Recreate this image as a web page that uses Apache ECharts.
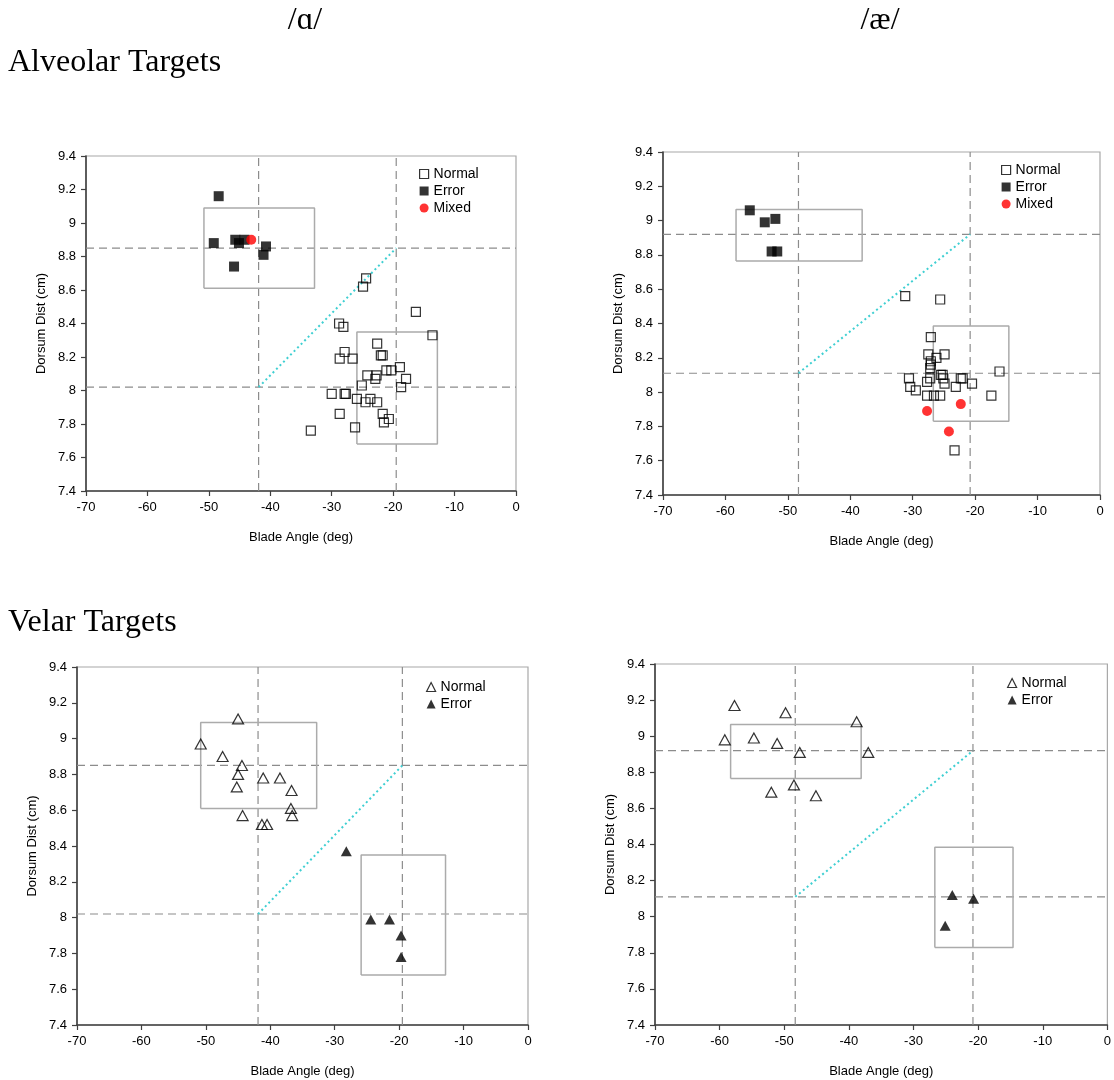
<!DOCTYPE html>
<html><head><meta charset="utf-8">
<script src="https://cdn.jsdelivr.net/npm/echarts@6/dist/echarts.min.js"></script>
<style>html,body{margin:0;padding:0;background:#fff}#c{width:1114px;height:1080px}</style>
</head><body><div id="c"></div>
<script>
// ---------- data ----------
// /ɑ/ alveolar targets: [blade angle (deg), dorsum dist (cm)]
const aAlvNormal = [[-24.4,8.67],[-24.9,8.62],[-16.3,8.47],[-13.6,8.33],[-28.8,8.40],[-28.1,8.38],[-22.6,8.28],[-22.0,8.21],[-21.7,8.21],[-27.9,8.23],[-28.7,8.19],[-26.6,8.19],[-18.9,8.14],[-21.1,8.12],[-20.3,8.12],[-24.2,8.09],[-22.7,8.09],[-22.9,8.07],[-17.9,8.07],[-25.1,8.03],[-18.7,8.02],[-30.0,7.98],[-27.9,7.98],[-27.7,7.98],[-25.9,7.95],[-23.7,7.95],[-24.5,7.93],[-22.6,7.93],[-28.7,7.86],[-21.7,7.86],[-20.7,7.83],[-21.5,7.81],[-26.2,7.78],[-33.4,7.76]];
const aAlvError = [[-48.4,9.16],[-49.2,8.88],[-45.7,8.90],[-45.1,8.88],[-44.2,8.90],[-40.7,8.86],[-41.1,8.81],[-45.9,8.74]];
const aAlvMixed = [[-43.1,8.90]];
// /æ/ alveolar targets
const eAlvNormal = [[-31.2,8.56],[-25.6,8.54],[-27.1,8.32],[-27.5,8.22],[-24.9,8.22],[-26.2,8.20],[-27.1,8.18],[-27.1,8.16],[-27.2,8.14],[-16.1,8.12],[-25.5,8.10],[-25.2,8.10],[-27.2,8.08],[-30.6,8.08],[-25.1,8.08],[-22.3,8.08],[-22.0,8.08],[-27.7,8.06],[-24.9,8.05],[-20.5,8.05],[-30.4,8.03],[-23.1,8.03],[-29.5,8.01],[-27.7,7.98],[-26.6,7.98],[-25.6,7.98],[-17.4,7.98],[-23.3,7.66]];
const eAlvError = [[-56.1,9.06],[-52.0,9.01],[-53.7,8.99],[-52.6,8.82],[-51.7,8.82]];
const eAlvMixed = [[-22.3,7.93],[-27.7,7.89],[-24.2,7.77]];
// /ɑ/ velar targets
const aVelNormal = [[-45.0,9.11],[-50.8,8.97],[-47.4,8.90],[-44.4,8.85],[-45.0,8.80],[-41.1,8.78],[-38.5,8.78],[-45.2,8.73],[-36.7,8.71],[-36.8,8.61],[-44.3,8.57],[-36.6,8.57],[-41.3,8.52],[-40.5,8.52]];
const aVelError = [[-28.2,8.37],[-24.4,7.99],[-21.5,7.99],[-19.7,7.90],[-19.7,7.78]];
// /æ/ velar targets
const eVelNormal = [[-57.7,9.17],[-49.8,9.13],[-38.8,9.08],[-59.2,8.98],[-54.7,8.99],[-51.1,8.96],[-47.6,8.91],[-37.0,8.91],[-48.5,8.73],[-52.0,8.69],[-45.1,8.67]];
const eVelError = [[-24.0,8.12],[-20.7,8.10],[-25.1,7.95]];
// reference lines and boxes: [xmin, xmax, ymin, ymax]
const aRefX = [-41.9, -19.5], aRefY = [8.02, 8.85];
const eRefX = [-48.3, -20.8], eRefY = [8.11, 8.92];
const aBoxError = [-50.8, -32.8, 8.61, 9.09], aBoxNormal = [-25.9, -12.8, 7.68, 8.35];
const eBoxError = [-58.3, -38.1, 8.765, 9.065], eBoxNormal = [-26.7, -14.6, 7.83, 8.385];
const xRange = [-70, 0], xStep = 10;
const yRange = [7.4, 9.4], yStep = 0.2;
const vowelTitles = ['/ɑ/', '/æ/'];
const rowTitles = ['Alveolar Targets', 'Velar Targets'];
const xName = 'Blade Angle (deg)', yName = 'Dorsum Dist (cm)';

// ---------- build ----------
const SANS = "'Liberation Sans', Arial, sans-serif";
const SERIF = "'Liberation Serif', 'DejaVu Serif', 'Times New Roman', serif";
const panels = [
  {grid:{left:86, top:156, width:430, height:335}, refX:aRefX, refY:aRefY, boxes:[aBoxError,aBoxNormal],
   sets:[['Normal',aAlvNormal,'sq'],['Error',aAlvError,'fsq'],['Mixed',aAlvMixed,'dot']], legend:{left:414, top:162}},
  {grid:{left:663, top:152, width:437, height:343}, refX:eRefX, refY:eRefY, boxes:[eBoxError,eBoxNormal],
   sets:[['Normal',eAlvNormal,'sq'],['Error',eAlvError,'fsq'],['Mixed',eAlvMixed,'dot']], legend:{left:996, top:158}},
  {grid:{left:77, top:667, width:451, height:358}, refX:aRefX, refY:aRefY, boxes:[aBoxError,aBoxNormal],
   sets:[['Normal',aVelNormal,'tri'],['Error',aVelError,'ftri']], legend:{left:421, top:675}},
  {grid:{left:655, top:664, width:454, height:361}, refX:eRefX, refY:eRefY, boxes:[eBoxError,eBoxNormal],
   sets:[['Normal',eVelNormal,'tri'],['Error',eVelError,'ftri']], legend:{left:1002, top:671}}
];
const styles = {
  sq:  {symbol:'rect', size:9, item:{color:'rgba(0,0,0,0)', borderColor:'#000', borderWidth:1.2}},
  fsq: {symbol:'rect', size:10, item:{color:'#000'}},
  dot: {symbol:'circle', size:10, item:{color:'#ff0000'}},
  tri: {symbol:'triangle', size:[11,10], item:{color:'rgba(0,0,0,0)', borderColor:'#000', borderWidth:1.2}},
  ftri:{symbol:'triangle', size:[11,10], item:{color:'#000'}}
};
const titleStyle = {fontFamily:SERIF, fontSize:32, fontWeight:'normal', color:'#000'};

const option = {
  animation:false, backgroundColor:'#fff',
  title:[
    {text:vowelTitles[0], left:300, top:0, textAlign:'center', textStyle:titleStyle},
    {text:vowelTitles[1], left:875, top:0, textAlign:'center', textStyle:titleStyle},
    {text:rowTitles[0], left:3, top:42, textStyle:titleStyle},
    {text:rowTitles[1], left:3, top:602, textStyle:titleStyle}
  ],
  grid:[], xAxis:[], yAxis:[], legend:[], series:[]
};

panels.forEach((p, i) => {
  option.grid.push(Object.assign({show:true, borderColor:'#a8a8a8', borderWidth:1.2, backgroundColor:'#fff'}, p.grid));
  const axisCommon = {
    gridIndex:i, type:'value', nameLocation:'middle',
    nameTextStyle:{fontFamily:SANS, fontSize:13, color:'#000'},
    axisLine:{show:true, onZero:false, lineStyle:{color:'#404040', width:1.6}},
    axisTick:{show:true, length:5, lineStyle:{color:'#404040', width:1.2}},
    axisLabel:{fontFamily:SANS, fontSize:13, color:'#000'},
    splitLine:{show:false}
  };
  option.xAxis.push(Object.assign({}, axisCommon, {min:xRange[0], max:xRange[1], interval:xStep, name:xName, nameGap:40,
    axisLabel:Object.assign({}, axisCommon.axisLabel, {margin:10})}));
  option.yAxis.push(Object.assign({}, axisCommon, {min:yRange[0], max:yRange[1], interval:yStep, name:yName, nameGap:38,
    axisLabel:Object.assign({}, axisCommon.axisLabel, {margin:10})}));

  const lineBase = {type:'line', xAxisIndex:i, yAxisIndex:i, symbol:'none', silent:true, z:2, animation:false};
  p.refY.forEach(h => option.series.push(Object.assign({}, lineBase, {
    data:[[xRange[0],h],[xRange[1],h]], lineStyle:{color:'#8c8c8c', width:1.2, type:[8,5]}})));
  p.refX.forEach(v => option.series.push(Object.assign({}, lineBase, {
    data:[[v,yRange[0]],[v,yRange[1]]], lineStyle:{color:'#8c8c8c', width:1.2, type:[8,5]}})));
  option.series.push(Object.assign({}, lineBase, {
    data:[[p.refX[0],p.refY[0]],[p.refX[1],p.refY[1]]], lineStyle:{color:'#3fcfd2', width:2, type:[2,3]}}));
  p.boxes.forEach(b => option.series.push(Object.assign({}, lineBase, {
    data:[[b[0],b[2]],[b[1],b[2]],[b[1],b[3]],[b[0],b[3]],[b[0],b[2]]], lineStyle:{color:'#ababab', width:1.5}})));

  const legendData = [];
  p.sets.forEach(([name, data, st]) => {
    const s = styles[st];
    option.series.push({type:'scatter', name, xAxisIndex:i, yAxisIndex:i, data, symbol:s.symbol, symbolSize:s.size,
      itemStyle:s.item, z:5, animation:false, emphasis:{disabled:true}});
    legendData.push({name, icon:s.symbol, itemStyle:s.item});
  });
  option.legend.push({left:p.legend.left, top:p.legend.top, orient:'vertical', itemWidth:9, itemHeight:9, itemGap:3,
    selectedMode:false, textStyle:{fontFamily:SANS, fontSize:14, color:'#000'}, data:legendData});
});

const chart = echarts.init(document.getElementById('c'), null, {renderer:'canvas'});
chart.setOption(option);
</script></body></html>
